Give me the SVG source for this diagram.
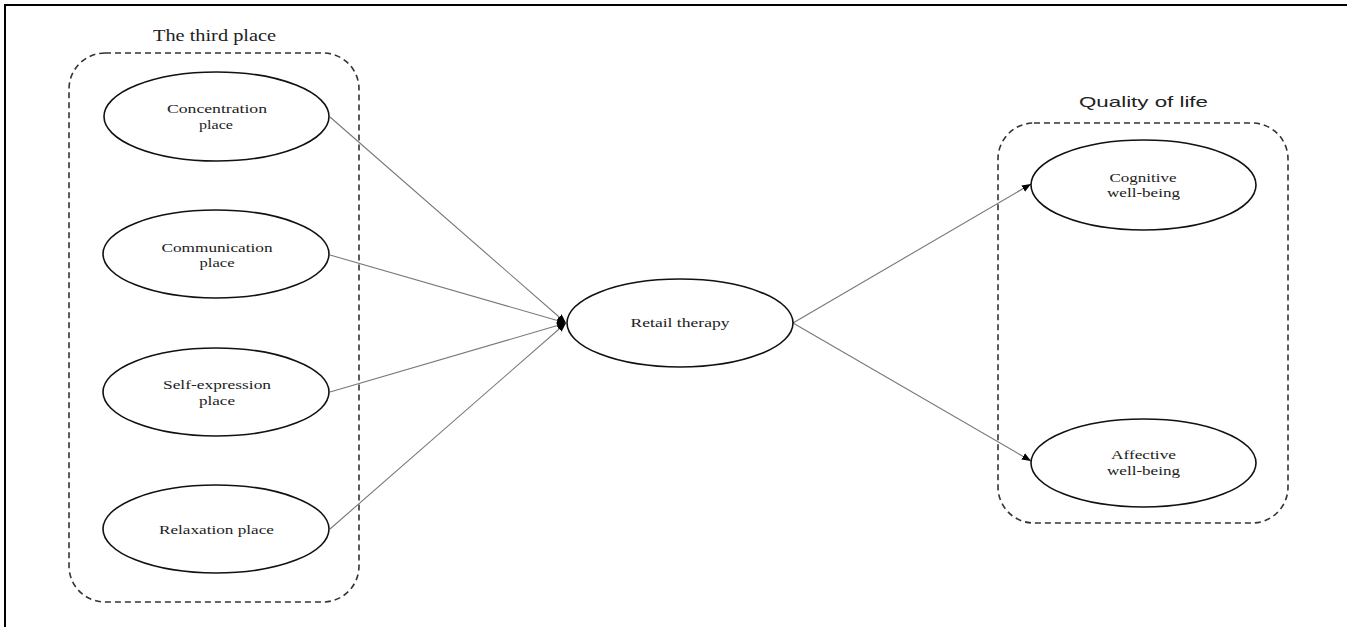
<svg xmlns="http://www.w3.org/2000/svg" width="1347" height="627" viewBox="0 0 1347 627">
  <style>
    .frame { stroke: #000; stroke-width: 2; fill: none; }
    .group { fill: none; stroke: #333; stroke-width: 1.6; stroke-dasharray: 6 4; }
    .node { fill: #fff; stroke: #111; stroke-width: 1.6; }
    .label { font-family: "Liberation Serif", "Times New Roman", serif; font-size: 13.5px; fill: #222; text-anchor: middle; }
    .title { font-family: "Liberation Serif", "Times New Roman", serif; font-size: 17px; fill: #222; text-anchor: middle; }
    .title-sans { font-family: "Liberation Sans", Arial, sans-serif; font-size: 15px; fill: #222; text-anchor: middle; }
    .edge { stroke: #777; stroke-width: 1.1; fill: none; marker-end: url(#arrow); }
  </style>
  <defs>
    <marker id="arrow" viewBox="0 0 10 10" refX="10" refY="5" markerWidth="9" markerHeight="9" markerUnits="userSpaceOnUse" orient="auto">
      <path d="M0,1 L10,5 L0,9 Z" fill="#000"/>
    </marker>
  </defs>

  <rect width="1347" height="627" fill="#fff"/>

  <!-- outer frame: top and left edges -->
  <g id="frame">
    <line class="frame" x1="4" y1="5" x2="1347" y2="5"/>
    <line class="frame" x1="5" y1="4" x2="5" y2="627"/>
  </g>

  <!-- grouping boxes -->
  <g id="third-place-group">
    <rect class="group" x="69" y="53" width="290" height="549" rx="36" ry="36"/>
    <text class="title" x="214.5" y="41" textLength="123" lengthAdjust="spacingAndGlyphs">The third place</text>
  </g>
  <g id="quality-of-life-group">
    <rect class="group" x="998" y="123" width="290" height="400" rx="36" ry="36"/>
    <text class="title-sans" x="1143.5" y="107" textLength="129" lengthAdjust="spacingAndGlyphs">Quality of life</text>
  </g>

  <!-- connectors -->
  <g id="connectors">
    <line class="edge" x1="330" y1="117" x2="566" y2="323"/>
    <line class="edge" x1="330" y1="255" x2="566" y2="323"/>
    <line class="edge" x1="330" y1="392" x2="566" y2="323"/>
    <line class="edge" x1="330" y1="529" x2="566" y2="323"/>
    <line class="edge" x1="793" y1="323" x2="1031" y2="184"/>
    <line class="edge" x1="793" y1="323" x2="1031" y2="461"/>
  </g>

  <!-- nodes -->
  <g id="concentration-place">
    <ellipse class="node" cx="216.5" cy="116.5" rx="112.5" ry="44.5"/>
    <text class="label" x="217" y="113" textLength="100" lengthAdjust="spacingAndGlyphs">Concentration</text>
    <text class="label" x="216" y="129" textLength="34" lengthAdjust="spacingAndGlyphs">place</text>
  </g>
  <g id="communication-place">
    <ellipse class="node" cx="216" cy="254" rx="113" ry="44"/>
    <text class="label" x="217" y="252" textLength="111" lengthAdjust="spacingAndGlyphs">Communication</text>
    <text class="label" x="217" y="267" textLength="35" lengthAdjust="spacingAndGlyphs">place</text>
  </g>
  <g id="self-expression-place">
    <ellipse class="node" cx="216" cy="392" rx="113" ry="44"/>
    <text class="label" x="217" y="389" textLength="108" lengthAdjust="spacingAndGlyphs">Self-expression</text>
    <text class="label" x="217" y="405" textLength="36" lengthAdjust="spacingAndGlyphs">place</text>
  </g>
  <g id="relaxation-place">
    <ellipse class="node" cx="216" cy="529" rx="113" ry="44"/>
    <text class="label" x="216.5" y="534" textLength="115" lengthAdjust="spacingAndGlyphs">Relaxation place</text>
  </g>
  <g id="retail-therapy">
    <ellipse class="node" cx="680" cy="323" rx="113" ry="44"/>
    <text class="label" x="680" y="327" textLength="99" lengthAdjust="spacingAndGlyphs">Retail therapy</text>
  </g>
  <g id="cognitive-well-being">
    <ellipse class="node" cx="1143.5" cy="185" rx="112.5" ry="45"/>
    <text class="label" x="1143" y="182" textLength="67" lengthAdjust="spacingAndGlyphs">Cognitive</text>
    <text class="label" x="1143.5" y="197" textLength="73" lengthAdjust="spacingAndGlyphs">well-being</text>
  </g>
  <g id="affective-well-being">
    <ellipse class="node" cx="1143.5" cy="463" rx="112.5" ry="44"/>
    <text class="label" x="1143.5" y="459" textLength="65" lengthAdjust="spacingAndGlyphs">Affective</text>
    <text class="label" x="1143.5" y="475" textLength="73" lengthAdjust="spacingAndGlyphs">well-being</text>
  </g>
</svg>
